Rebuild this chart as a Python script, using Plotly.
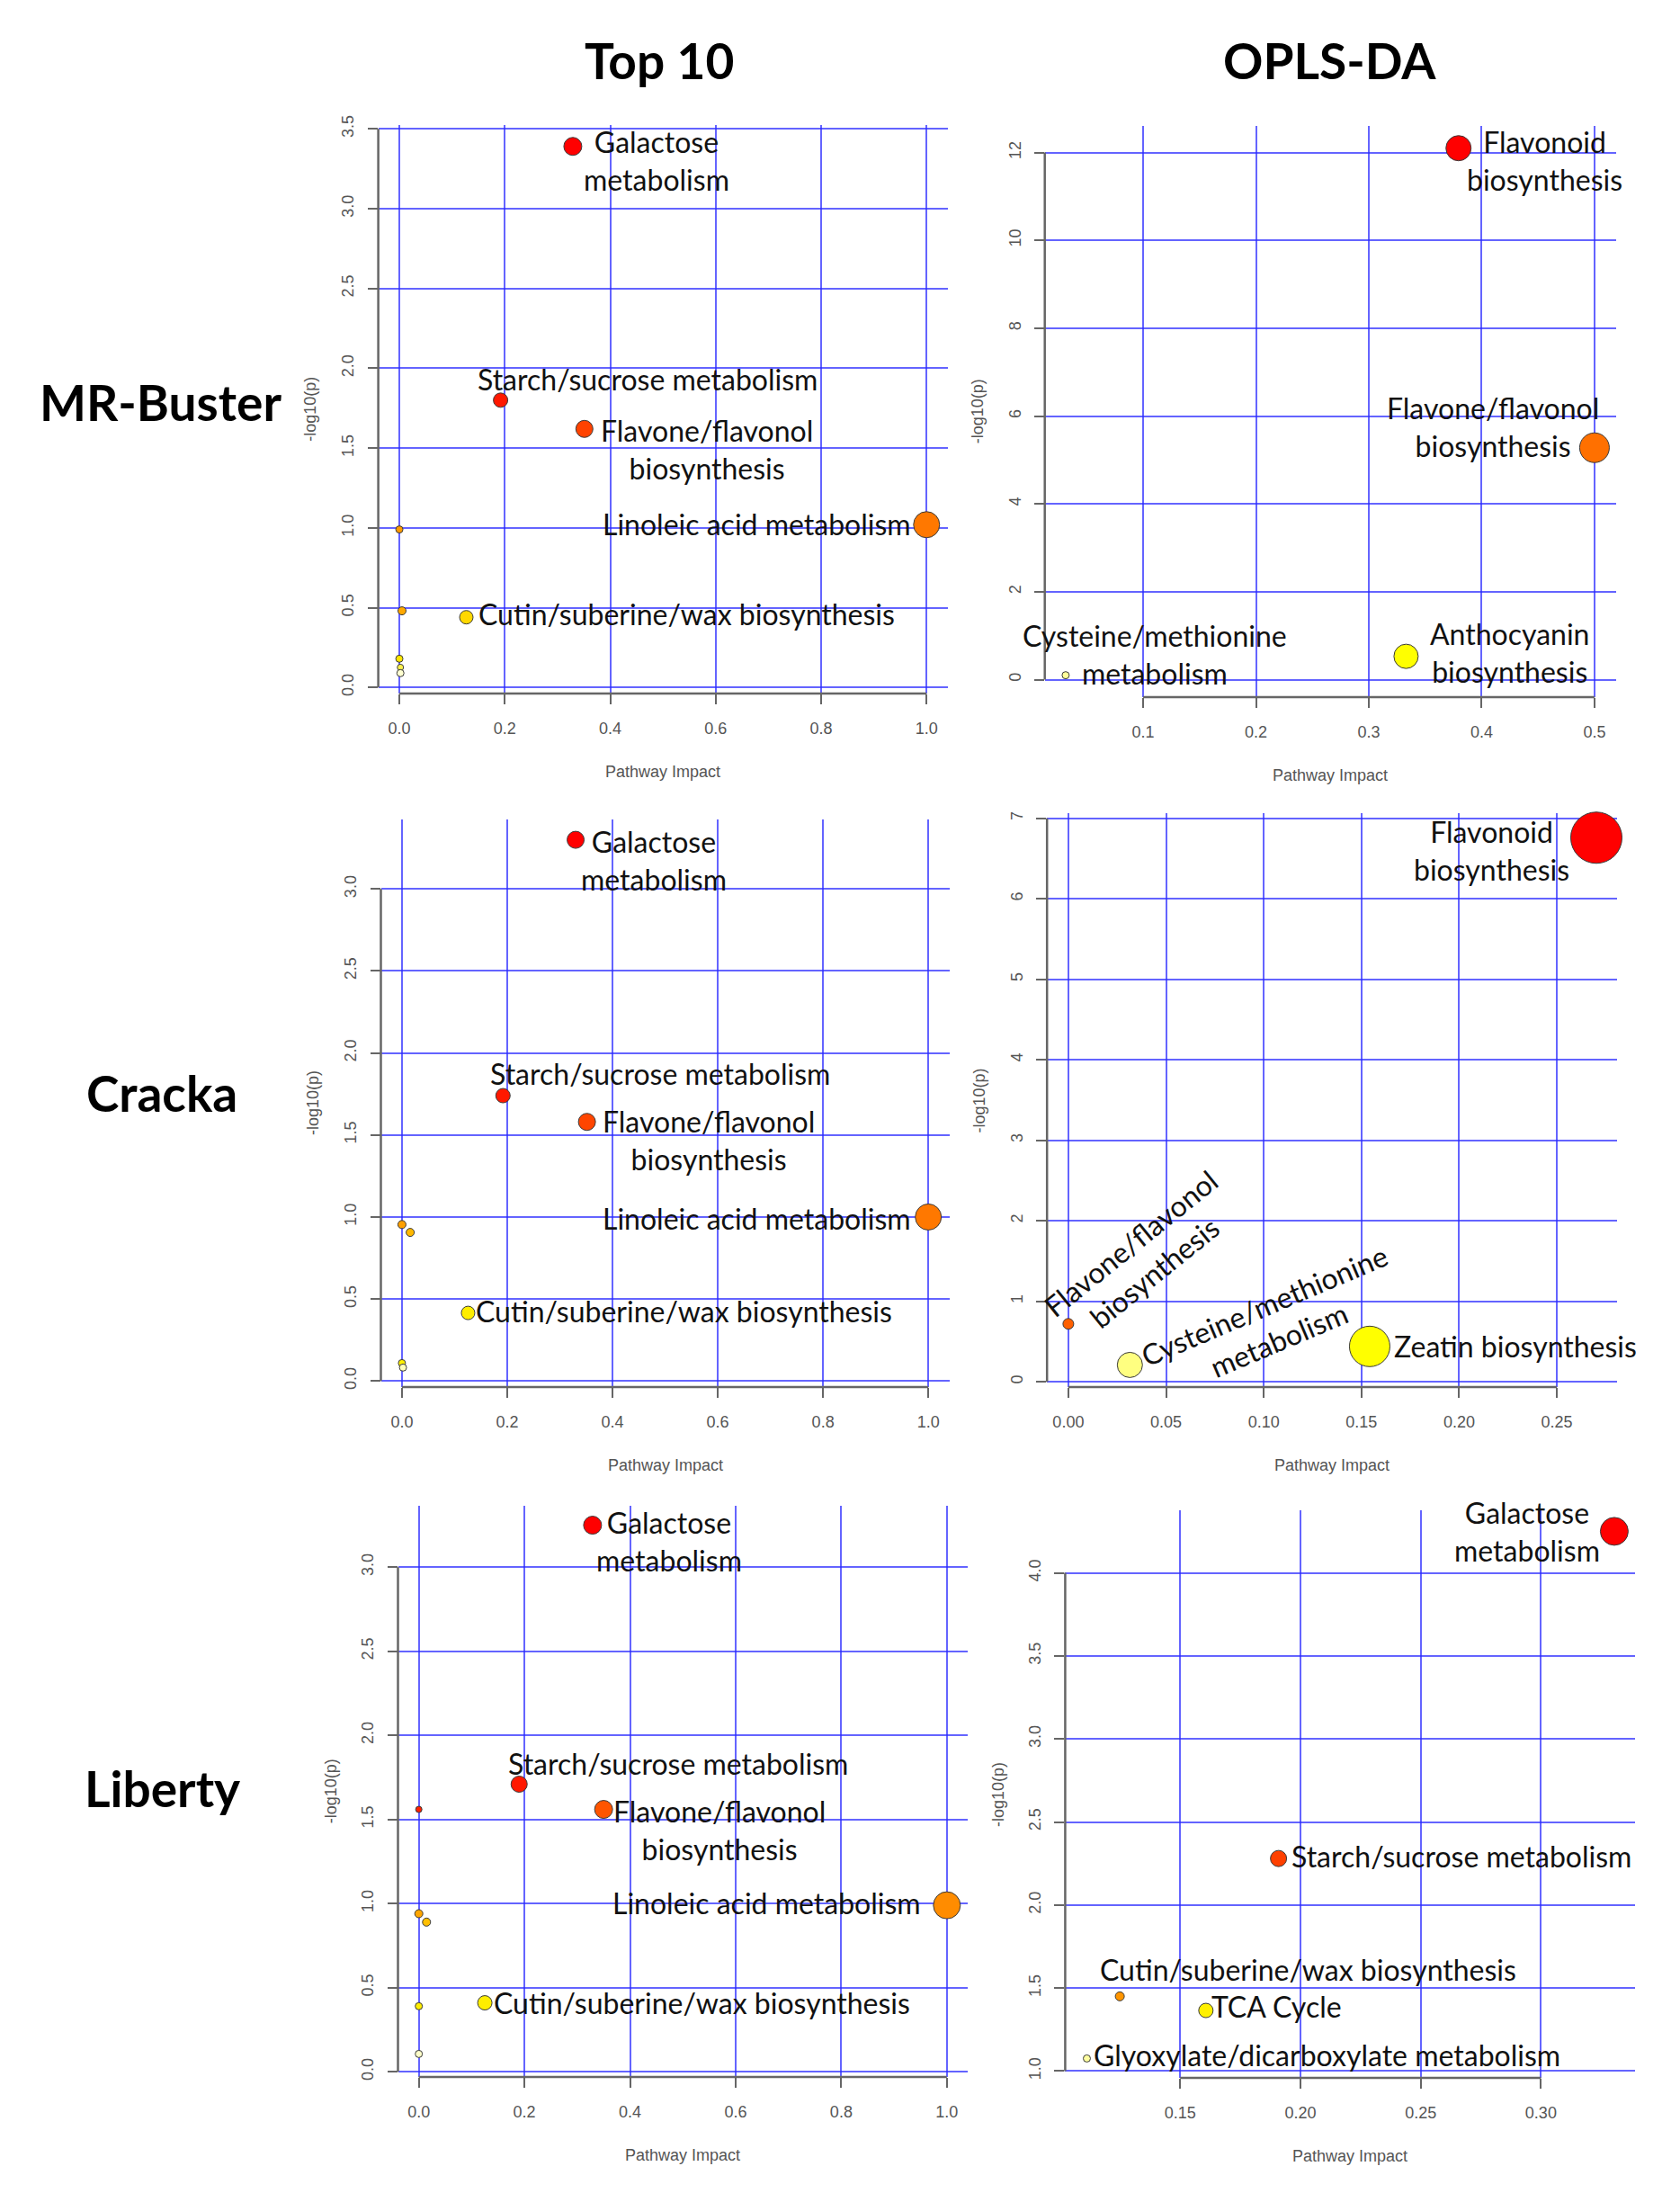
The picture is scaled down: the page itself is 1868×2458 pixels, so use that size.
import plotly.graph_objects as go

# page is 1868x2458; the figure sits inside the 8px body margin
PAGE_W, PAGE_H = 1868, 2458
OFF = 8
W, H = PAGE_W - 2 * OFF, PAGE_H - 2 * OFF
# measured vertical placement of the photographed figure: shown_y = V0 + VS * paper_y
V0, VS = 18.0, 0.9945


def fx(px):
    return (px - OFF) / W


def fy(py):
    return 1 - ((py - V0) / VS) / H


# ---------------- data ----------------
row_names = ["MR-Buster", "Cracka", "Liberty"]
col_names = ["Top 10", "OPLS-DA"]
x_title = "Pathway Impact"
y_title = "-log10(p)"

# MR-Buster, Top 10
mr_top_impact = [0.329, 0.192, 0.351, 1.0, 0.127, 0.0, 0.005, 0.0, 0.002, 0.002]
mr_top_logp = [3.39, 1.80, 1.62, 1.02, 0.44, 0.99, 0.48, 0.18, 0.126, 0.09]
# MR-Buster, OPLS-DA
mr_opls_impact = [0.3795, 0.5, 0.333, 0.0313]
mr_opls_logp = [12.10, 5.28, 0.53, 0.10]
# Cracka, Top 10
cr_top_impact = [0.330, 0.192, 0.3515, 1.0, 0.1257, 0.0, 0.0157, 0.0, 0.002]
cr_top_logp = [3.30, 1.74, 1.58, 1.00, 0.415, 0.954, 0.906, 0.109, 0.082]
# Cracka, OPLS-DA
cr_opls_impact = [0.2702, 0.1542, 0.0315, 0.0]
cr_opls_logp = [6.76, 0.44, 0.21, 0.72]
# Liberty, Top 10
li_top_impact = [0.329, 0.19, 0.35, 1.0, 0.125, 0.0, 0.0, 0.0146, 0.0, 0.0]
li_top_logp = [3.25, 1.71, 1.56, 0.99, 0.41, 1.56, 0.94, 0.89, 0.39, 0.106]
# Liberty, OPLS-DA
li_opls_impact = [0.3305, 0.1909, 0.1249, 0.1607, 0.1112]
li_opls_logp = [4.25, 2.28, 1.45, 1.365, 1.076]

# tick values
top_x_ticks = [0.0, 0.2, 0.4, 0.6, 0.8, 1.0]
top_x_labels = ["0.0", "0.2", "0.4", "0.6", "0.8", "1.0"]
mr_top_y_ticks = [0.0, 0.5, 1.0, 1.5, 2.0, 2.5, 3.0, 3.5]
mr_top_y_labels = ["0.0", "0.5", "1.0", "1.5", "2.0", "2.5", "3.0", "3.5"]
top_y_ticks = [0.0, 0.5, 1.0, 1.5, 2.0, 2.5, 3.0]
top_y_labels = ["0.0", "0.5", "1.0", "1.5", "2.0", "2.5", "3.0"]
mr_opls_x_ticks = [0.1, 0.2, 0.3, 0.4, 0.5]
mr_opls_x_labels = ["0.1", "0.2", "0.3", "0.4", "0.5"]
mr_opls_y_ticks = [0, 2, 4, 6, 8, 10, 12]
mr_opls_y_labels = ["0", "2", "4", "6", "8", "10", "12"]
cr_opls_x_ticks = [0.0, 0.05, 0.10, 0.15, 0.20, 0.25]
cr_opls_x_labels = ["0.00", "0.05", "0.10", "0.15", "0.20", "0.25"]
cr_opls_y_ticks = [0, 1, 2, 3, 4, 5, 6, 7]
cr_opls_y_labels = ["0", "1", "2", "3", "4", "5", "6", "7"]
li_opls_x_ticks = [0.15, 0.20, 0.25, 0.30]
li_opls_x_labels = ["0.15", "0.20", "0.25", "0.30"]
li_opls_y_ticks = [1.0, 1.5, 2.0, 2.5, 3.0, 3.5, 4.0]
li_opls_y_labels = ["1.0", "1.5", "2.0", "2.5", "3.0", "3.5", "4.0"]

# ---------------- styles ----------------
mr_top_colors = ["#FF0000", "#FF1800", "#FF4200", "#FF7800", "#FFD800",
                 "#FF9A00", "#FFA800", "#FFE600", "#FFF24D", "#FFFFD0"]
mr_top_sizes = [20, 16, 19, 29, 15, 8, 9, 8, 7, 8]
mr_opls_colors = ["#FF0000", "#FF7000", "#FFFF00", "#FFFF99"]
mr_opls_sizes = [28, 33, 27, 8]
cr_top_colors = ["#FF0000", "#FF1800", "#FF4500", "#FF7800", "#FFEE00",
                 "#FFA000", "#FFB800", "#FFF000", "#FFFFB8"]
cr_top_sizes = [19, 16, 19, 29, 15, 9, 9, 8, 8]
cr_opls_colors = ["#FF0000", "#FFFF00", "#FFFF80", "#FF6000"]
cr_opls_sizes = [57, 45, 28, 12]
li_top_colors = ["#FF0000", "#FF1800", "#FF5500", "#FF8C00", "#FFEE00",
                 "#FF2000", "#FFA500", "#FFBF00", "#FFEE00", "#FFFFC8"]
li_top_sizes = [20, 18, 20, 30, 16, 7, 9, 9, 8, 8]
li_opls_colors = ["#FF0000", "#FF4000", "#FF9500", "#FFF000", "#FFFFA0"]
li_opls_sizes = [31, 18, 10, 16, 8]

GRID = "rgba(40,40,255,0.72)"
AXIS = "#666666"
TICKFONT = dict(family="Liberation Sans, Arial, sans-serif", size=18, color="#555555")
LABELFONT = dict(family="Lato, Open Sans, sans-serif", size=32, color="#111111")
HEADFONT = dict(family="Lato, Open Sans, sans-serif", size=55, color="#000000")

# panel geometry in reference pixels: left, right, top, bottom; axis ranges
panels = [
    dict(px=(420.6, 1053.7, 138.4, 770.5), xr=[-0.04, 1.04], yr=[-0.038, 3.522],
         xt=top_x_ticks, xl=top_x_labels, yt=mr_top_y_ticks, yl=mr_top_y_labels,
         x=mr_top_impact, y=mr_top_logp, c=mr_top_colors, s=mr_top_sizes),
    dict(px=(1161.7, 1796.5, 139.4, 774.4), xr=[0.0128, 0.5188], yr=[-0.397, 12.6],
         xt=mr_opls_x_ticks, xl=mr_opls_x_labels, yt=mr_opls_y_ticks, yl=mr_opls_y_labels,
         x=mr_opls_impact, y=mr_opls_logp, c=mr_opls_colors, s=mr_opls_sizes),
    dict(px=(423.5, 1055.6, 910.4, 1542.0), xr=[-0.04, 1.04], yr=[-0.037, 3.425],
         xt=top_x_ticks, xl=top_x_labels, yt=top_y_ticks, yl=top_y_labels,
         x=cr_top_impact, y=cr_top_logp, c=cr_top_colors, s=cr_top_sizes),
    dict(px=(1164.2, 1797.6, 904.0, 1542.0), xr=[-0.0109, 0.2806], yr=[-0.065, 7.06],
         xt=cr_opls_x_ticks, xl=cr_opls_x_labels, yt=cr_opls_y_ticks, yl=cr_opls_y_labels,
         x=cr_opls_impact, y=cr_opls_logp, c=cr_opls_colors, s=cr_opls_sizes),
    dict(px=(442.5, 1076.3, 1674.5, 2309.5), xr=[-0.0395, 1.04], yr=[-0.031, 3.363],
         xt=top_x_ticks, xl=top_x_labels, yt=top_y_ticks, yl=top_y_labels,
         x=li_top_impact, y=li_top_logp, c=li_top_colors, s=li_top_sizes),
    dict(px=(1184.4, 1818.2, 1679.4, 2310.5), xr=[0.1022, 0.3392], yr=[0.959, 4.375],
         xt=li_opls_x_ticks, xl=li_opls_x_labels, yt=li_opls_y_ticks, yl=li_opls_y_labels,
         x=li_opls_impact, y=li_opls_logp, c=li_opls_colors, s=li_opls_sizes),
]

# point labels: (text, x, y, angle) per panel
point_labels = [
    [("Galactose<br>metabolism", 0.488, 3.30, 0),
     ("Starch/sucrose metabolism", 0.470, 1.933, 0),
     ("Flavone/flavonol<br>biosynthesis", 0.584, 1.493, 0),
     ("Linoleic acid metabolism", 0.678, 1.026, 0),
     ("Cutin/suberine/wax biosynthesis", 0.5455, 0.459, 0)],
    [("Flavonoid<br>biosynthesis", 0.4562, 11.81, 0),
     ("Flavone/flavonol<br>biosynthesis", 0.4096, 5.76, 0),
     ("Anthocyanin<br>biosynthesis", 0.4245, 0.605, 0),
     ("Cysteine/methionine<br>metabolism", 0.110, 0.565, 0)],
    [("Galactose<br>metabolism", 0.478, 3.177, 0),
     ("Starch/sucrose metabolism", 0.4905, 1.876, 0),
     ("Flavone/flavonol<br>biosynthesis", 0.583, 1.471, 0),
     ("Linoleic acid metabolism", 0.674, 0.991, 0),
     ("Cutin/suberine/wax biosynthesis", 0.5356, 0.428, 0)],
    [("Flavonoid<br>biosynthesis", 0.2167, 6.603, 0),
     ("Zeatin biosynthesis", 0.2287, 0.449, 0),
     ("Flavone/flavonol<br>biosynthesis", 0.0378, 1.543, -39),
     ("Cysteine/methionine<br>metabolism", 0.1039, 0.736, -23)],
    [("Galactose<br>metabolism", 0.4735, 3.153, 0),
     ("Starch/sucrose metabolism", 0.4918, 1.834, 0),
     ("Flavone/flavonol<br>biosynthesis", 0.570, 1.439, 0),
     ("Linoleic acid metabolism", 0.658, 1.005, 0),
     ("Cutin/suberine/wax biosynthesis", 0.537, 0.409, 0)],
    [("Galactose<br>metabolism", 0.2943, 4.247, 0),
     ("Starch/sucrose metabolism", 0.267, 2.294, 0),
     ("Cutin/suberine/wax biosynthesis", 0.2033, 1.614, 0),
     ("TCA Cycle", 0.190, 1.388, 0),
     ("Glyoxylate/dicarboxylate metabolism", 0.211, 1.0997, 0)],
]

fig = go.Figure()
annotations = []
shapes = []
layout = dict(width=W, height=H, margin=dict(l=0, r=0, t=0, b=0),
              paper_bgcolor="white", plot_bgcolor="white", showlegend=False)

for i, p in enumerate(panels):
    n = "" if i == 0 else str(i + 1)
    xa, ya = "x" + n, "y" + n
    left, right, top, bottom = p["px"]
    layout["xaxis" + n] = dict(
        domain=[fx(left), fx(right)], range=p["xr"], anchor=ya,
        tickvals=p["xt"], ticktext=p["xl"], ticks="outside", ticklen=11,
        tickwidth=2, tickcolor=AXIS, showgrid=True, gridcolor=GRID, gridwidth=2,
        zeroline=False, showline=False, tickfont=TICKFONT, ticklabelstandoff=11)
    layout["yaxis" + n] = dict(
        domain=[fy(bottom), fy(top)], range=p["yr"], anchor=xa,
        tickvals=p["yt"], ticktext=p["yl"], ticks="outside", ticklen=11,
        tickwidth=2, tickcolor=AXIS, showgrid=True, gridcolor=GRID, gridwidth=2,
        zeroline=False, showline=False, tickfont=TICKFONT, tickangle=-90,
        ticklabelstandoff=8)
    fig.add_trace(go.Scatter(
        x=p["x"], y=p["y"], mode="markers", xaxis=xa, yaxis=ya, cliponaxis=False,
        marker=dict(size=p["s"], color=p["c"], line=dict(color="#3a3a3a", width=1),
                    opacity=1), hoverinfo="skip"))
    # R-style axis lines spanning first to last tick
    shapes.append(dict(type="line", xref=xa, yref=ya + " domain",
                       x0=p["xt"][0], x1=p["xt"][-1], y0=0, y1=0,
                       line=dict(color=AXIS, width=2.5)))
    shapes.append(dict(type="line", xref=xa + " domain", yref=ya,
                       x0=0, x1=0, y0=p["yt"][0], y1=p["yt"][-1],
                       line=dict(color=AXIS, width=2.5)))
    # axis titles
    annotations.append(dict(text=x_title, xref=xa + " domain", yref=ya + " domain",
                            x=0.5, y=0, yshift=-87, showarrow=False,
                            xanchor="center", yanchor="middle", font=TICKFONT))
    annotations.append(dict(text=y_title, xref=xa + " domain", yref=ya + " domain",
                            x=0, y=0.5, xshift=-75, showarrow=False, textangle=-90,
                            xanchor="center", yanchor="middle", font=TICKFONT))
    for txt, lx, ly, ang in point_labels[i]:
        annotations.append(dict(text=txt, x=lx, y=ly, xref=xa, yref=ya,
                                showarrow=False, textangle=ang, align="center",
                                xanchor="center", yanchor="middle", font=LABELFONT))

# column and row headers
col_pos = [733, 1478]
for name, cx in zip(col_names, col_pos):
    annotations.append(dict(text="<b>" + name + "</b>", x=fx(cx), y=fy(66),
                            xref="paper", yref="paper", showarrow=False,
                            xanchor="center", yanchor="middle", font=HEADFONT))
row_pos = [(178, 446), (180, 1215), (180, 1988)]
for name, (rx, ry) in zip(row_names, row_pos):
    annotations.append(dict(text="<b>" + name + "</b>", x=fx(rx), y=fy(ry),
                            xref="paper", yref="paper", showarrow=False,
                            xanchor="center", yanchor="middle", font=HEADFONT))

layout["annotations"] = annotations
layout["shapes"] = shapes
fig.update_layout(**layout)
fig.write_html("out.html")
